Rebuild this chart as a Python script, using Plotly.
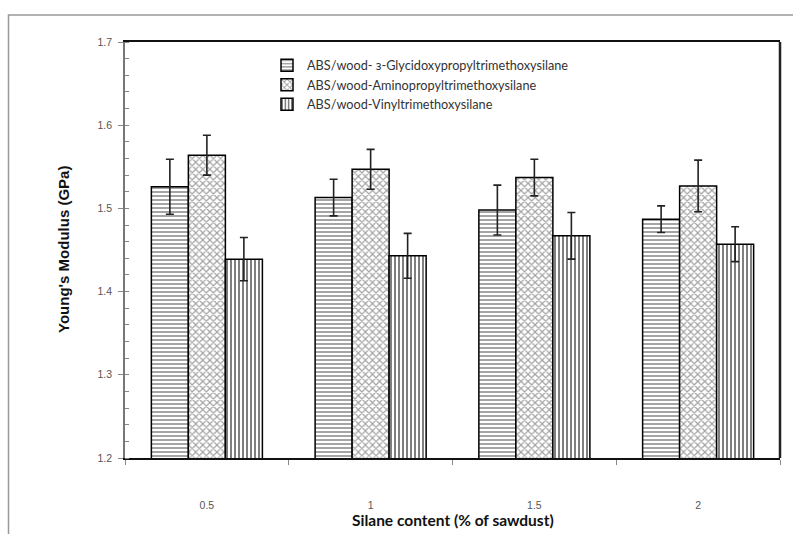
import plotly.graph_objects as go

categories = ["0.5", "1", "1.5", "2"]
series_names = [
    "ABS/wood- з-Glycidoxypropyltrimethoxysilane",
    "ABS/wood-Aminopropyltrimethoxysilane",
    "ABS/wood-Vinyltrimethoxysilane",
]
glycidoxy = [1.526, 1.513, 1.498, 1.487]
glycidoxy_err = [0.033, 0.022, 0.030, 0.016]
amino = [1.564, 1.547, 1.537, 1.527]
amino_err = [0.024, 0.024, 0.022, 0.031]
vinyl = [1.439, 1.443, 1.467, 1.457]
vinyl_err = [0.026, 0.027, 0.028, 0.021]

patterns = [
    dict(shape="-", size=4, solidity=0.38, fgcolor="#111111", bgcolor="white"),
    dict(shape="x", size=5, solidity=0.42, fgcolor="#444444", bgcolor="white"),
    dict(shape="|", size=4, solidity=0.5, fgcolor="#000000", bgcolor="white"),
]

fig = go.Figure()
for name, vals, errs, pat in zip(series_names, [glycidoxy, amino, vinyl],
                                 [glycidoxy_err, amino_err, vinyl_err], patterns):
    fig.add_trace(go.Bar(
        x=categories, y=vals, name=name,
        marker=dict(color="white", pattern=pat, line=dict(color="black", width=1.5)),
        error_y=dict(type="data", array=errs, visible=True, color="#222222", thickness=1.6, width=4),
    ))

W, H = 793, 534
L, R, T, B = 125, 13, 41.5, 76
pw, ph = W - L - R, H - T - B

def px(x):
    return (x - L) / pw

def py(y):
    return (H - B - y) / ph

fig.update_layout(
    width=W, height=H,
    margin=dict(l=L, r=R, t=T, b=B),
    paper_bgcolor="white", plot_bgcolor="white",
    barmode="group", bargap=0.322, bargroupgap=0,
    showlegend=True,
    legend=dict(x=px(267), y=py(50), xanchor="left", yanchor="top",
                bgcolor="rgba(0,0,0,0)", font=dict(family="Lato", size=12.7, color="#333333"),
                itemwidth=30, tracegroupgap=0),
    font=dict(family="Liberation Sans, Arial", color="#444444"),
)

fig.update_xaxes(
    type="category", showgrid=False, showline=True, linecolor="#111111", linewidth=1.5,
    mirror=True, ticks="outside", tickson="boundaries", ticklen=5, tickcolor="#888888",
    tickfont=dict(family="Liberation Sans, Arial", size=10.5, color="#555555"),
    ticklabelstandoff=37,
)
fig.update_yaxes(
    range=[1.2, 1.7], dtick=0.1, tickformat=".1f", showgrid=False, zeroline=False,
    showline=True, linecolor="#777777", linewidth=1.5,
    ticks="outside", ticklen=5, tickcolor="#888888",
    minor=dict(dtick=0.02, ticks="inside", ticklen=4, tickcolor="#888888"),
    tickfont=dict(family="Liberation Sans, Arial", size=10.5, color="#555555"),
    ticklabelstandoff=4,
)

# right border of plot area
fig.add_shape(type="line", xref="paper", yref="paper", x0=1, x1=1, y0=0, y1=1,
              line=dict(color="#222222", width=2.5))
# outer chart frame
fig.add_shape(type="rect", xref="paper", yref="paper", x0=px(8.5), x1=px(820),
              y0=py(560), y1=py(14.5), line=dict(color="#999999", width=1.5), layer="below")

fig.add_annotation(text="<b>Young's Modulus (GPa)</b>", xref="paper", yref="paper",
                   x=px(63), y=0.5, textangle=-90, showarrow=False,
                   xanchor="center", yanchor="middle",
                   font=dict(family="Liberation Sans, Arial", size=15, color="#111111"))
fig.add_annotation(text="<b>Silane content (% of sawdust)</b>", xref="paper", yref="paper",
                   x=0.5, y=py(520), showarrow=False, yanchor="middle",
                   font=dict(family="Lato", size=15.5, color="#111111"))

fig.write_html("out.html")
